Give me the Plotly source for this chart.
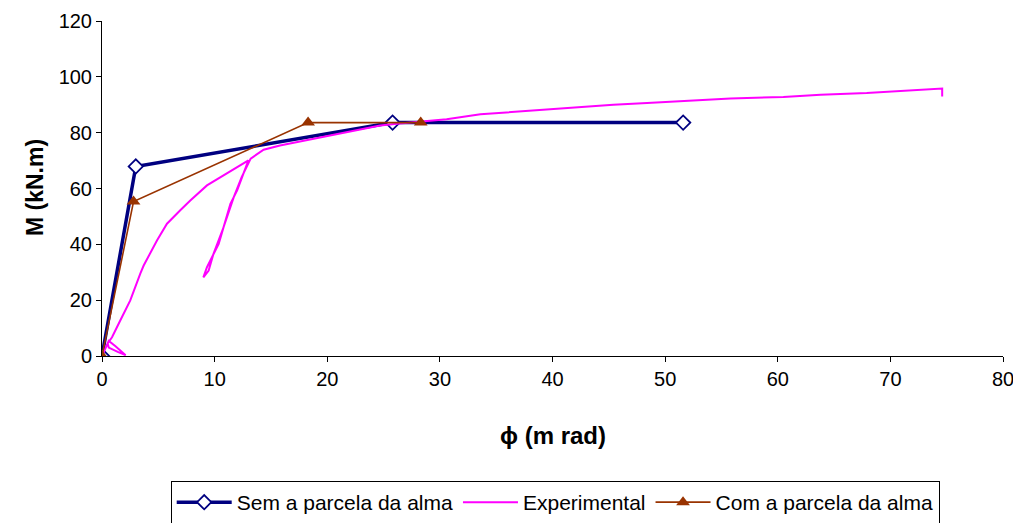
import plotly.graph_objects as go

# Data
sem_phi = [0, 3.0, 25.8, 51.6]
sem_m = [0, 67.9, 83.6, 83.6]

com_phi = [0, 2.8, 18.3, 28.3]
com_m = [0, 55.3, 83.6, 83.6]

exp_phi = [0, 0.3, 0.6, 1.2, 2.1, 1.4, 0.6, 0.5, 0.89, 1.62, 2.51, 3.4, 3.7, 4.88, 5.77,
           6.95, 7.84, 9.32, 10.8, 11.99, 13.0, 12.0, 11.4, 10.36, 10.06, 9.32, 9.0,
           9.47, 9.9, 10.2, 10.8, 11.7, 12.4, 13.2, 14.35, 15.8, 17.3, 18.8, 20.3,
           21.8, 23.2, 24.7, 26.2, 27.7, 29.2, 30.6, 33.6, 37.1, 39.5, 42.5, 45.4,
           48.4, 51.6, 55.8, 60.5, 63.8, 67.9, 70.9, 73.9, 74.6, 74.6]
exp_m = [0, 3.0, 5.4, 3.5, 0.3, 1.5, 3.0, 4.5, 6.7, 12.7, 19.9, 29.5, 32.4, 41.4, 47.4,
         52.2, 55.7, 61.1, 64.7, 67.7, 70.1, 59.3, 54.5, 40.2, 37.8, 31.8, 28.2,
         30.6, 36.6, 39.6, 46.2, 56.9, 64.1, 70.7, 73.9, 75.4, 76.6, 77.8, 79.0,
         80.2, 81.4, 82.6, 83.2, 83.8, 84.2, 84.8, 86.6, 87.6, 88.4, 89.2, 90.0,
         90.6, 91.2, 92.2, 92.8, 93.6, 94.2, 94.9, 95.6, 95.8, 93.0]

x_ticks = [0, 10, 20, 30, 40, 50, 60, 70, 80]
y_ticks = [0, 20, 40, 60, 80, 100, 120]

FONT = "Liberation Sans, Arial, sans-serif"

W, H = 1013, 515
L, R, T, B = 94, 18, 13, 167
PW, PH = W - L - R, H - T - B

fig = go.Figure()
fig.add_trace(go.Scatter(
    x=sem_phi, y=sem_m, name="Sem a parcela da alma", mode="lines+markers",
    line=dict(color="#000080", width=3.5),
    marker=dict(symbol="diamond", size=11, color="white",
                line=dict(color="#000080", width=1.8)),
))
fig.add_trace(go.Scatter(
    x=exp_phi, y=exp_m, name="Experimental", mode="lines",
    line=dict(color="#FF00FF", width=2),
))
fig.add_trace(go.Scatter(
    x=com_phi, y=com_m, name="Com a parcela da alma", mode="lines+markers",
    line=dict(color="#993300", width=1.6),
    marker=dict(symbol="triangle-up", size=12, color="#993300",
                line=dict(color="#993300", width=0)),
))

fig.update_layout(
    width=W, height=H,
    margin=dict(l=L, r=R, t=T, b=B, autoexpand=False),
    paper_bgcolor="white", plot_bgcolor="white",
    font=dict(family=FONT, size=20, color="black"),
    showlegend=True,
    legend=dict(
        orientation="h", x=0.503, xanchor="center", y=(T + PH - 473) / PH, yanchor="top",
        bordercolor="black", borderwidth=1, bgcolor="white",
        font=dict(family=FONT, size=21, color="black"),
        itemwidth=55, tracegroupgap=0,
    ),
    annotations=[
        dict(text="<b>ϕ (m rad)</b>", xref="paper", yref="paper",
             x=0.5, y=(T + PH - 427) / PH, xanchor="center",
             yanchor="middle", showarrow=False,
             font=dict(family=FONT, size=24, color="black")),
        dict(text="<b>M (kN.m)</b>", xref="paper", yref="paper",
             x=(27 - L) / PW, y=(T + PH - 180) / PH, xanchor="center",
             yanchor="middle", showarrow=False, textangle=-90,
             font=dict(family=FONT, size=23, color="black")),
    ],
)
fig.update_xaxes(
    range=[0, 80], tickvals=x_ticks, ticks="outside", ticklen=5, tickcolor="black",
    showline=True, linecolor="black", linewidth=1, showgrid=False, zeroline=False,
    tickfont=dict(family=FONT, size=20), automargin=False,
)
fig.update_yaxes(
    range=[0, 120], tickvals=y_ticks, ticks="outside", ticklen=5, tickcolor="black",
    showline=True, linecolor="black", linewidth=1, showgrid=False, zeroline=False,
    tickfont=dict(family=FONT, size=20), automargin=False,
)

fig.write_html("out.html")
